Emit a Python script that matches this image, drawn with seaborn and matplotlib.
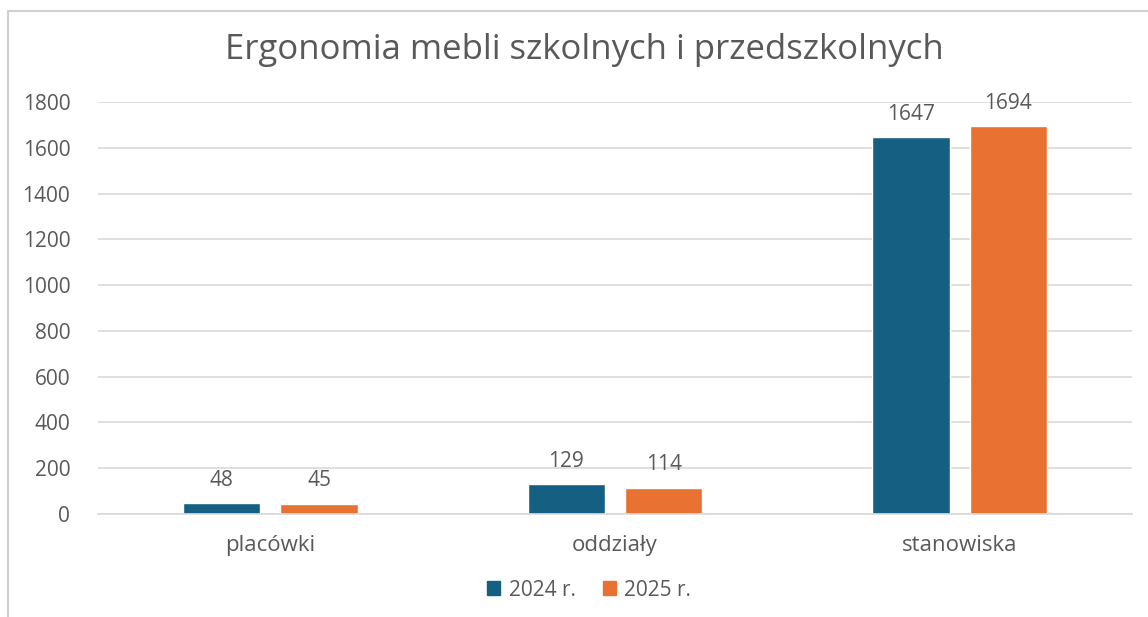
import matplotlib
matplotlib.use("Agg")
import matplotlib.pyplot as plt
import seaborn as sns
import pandas as pd
from matplotlib.patches import Rectangle
from matplotlib.lines import Line2D

categories = ["placówki", "oddziały", "stanowiska"]
series_names = ["2024 r.", "2025 r."]
values_2024 = [48, 129, 1647]
values_2025 = [45, 114, 1694]
yticks = [0, 200, 400, 600, 800, 1000, 1200, 1400, 1600, 1800]
title = "Ergonomia mebli szkolnych i przedszkolnych"

df = pd.DataFrame({
    "kategoria": categories * 2,
    "rok": [series_names[0]] * 3 + [series_names[1]] * 3,
    "wartość": values_2024 + values_2025,
})

sns.set_theme(style="white")
plt.rcParams["font.family"] = ["Open Sans", "DejaVu Sans"]
text_color = "#595959"

fig = plt.figure(figsize=(11.48, 6.17), dpi=100)
ax = fig.add_axes([98 / 1148, 1 - 514 / 617, 1034 / 1148, 412 / 617])

palette = {series_names[0]: "#156082", series_names[1]: "#E97132"}
sns.barplot(data=df, x="kategoria", y="wartość", hue="rok", palette=palette,
            width=0.566, gap=0.208, ax=ax, legend=False, saturation=1)

for c in ax.containers:
    ax.bar_label(c, labels=[f"{v:.0f}" for v in c.datavalues], padding=9,
                 fontsize=15, color=text_color)

ax.set_ylim(0, 1800)
ax.set_xlim(-0.5, 2.5)
ax.set_yticks(yticks)
ax.set_yticklabels([str(t) for t in yticks])
ax.yaxis.grid(True, color="#D9D9D9", linewidth=1.2)
ax.set_axisbelow(True)
for s in ["top", "right", "left"]:
    ax.spines[s].set_visible(False)
ax.spines["bottom"].set_color("#D9D9D9")
ax.spines["bottom"].set_linewidth(1.2)
ax.tick_params(axis="y", length=0, pad=20, labelsize=15, labelcolor=text_color)
ax.tick_params(axis="x", length=0, pad=15, labelsize=16, labelcolor=text_color)
ax.set_xlabel("")
ax.set_ylabel("")

fig.text(584 / 1148, 1 - 50 / 617, title, ha="center", va="center",
         fontsize=25, color=text_color)

handles = [Rectangle((0, 0), 1, 1, color=palette[n]) for n in series_names]
fig.legend(handles, series_names, loc="center", bbox_to_anchor=(589 / 1148, 1 - 590 / 617),
           ncol=2, frameon=False, fontsize=15, labelcolor=text_color,
           handlelength=0.65, handleheight=0.65, handletextpad=0.4, columnspacing=1.3)

# outer chart border (left and top)
fig.add_artist(Line2D([8 / 1148, 8 / 1148], [0, 1 - 11 / 617], transform=fig.transFigure,
                      color="#D0D0D0", linewidth=1.5))
fig.add_artist(Line2D([8 / 1148, 1], [1 - 11 / 617, 1 - 11 / 617], transform=fig.transFigure,
                      color="#D0D0D0", linewidth=1.5))

fig.savefig("out.png", dpi=100)
